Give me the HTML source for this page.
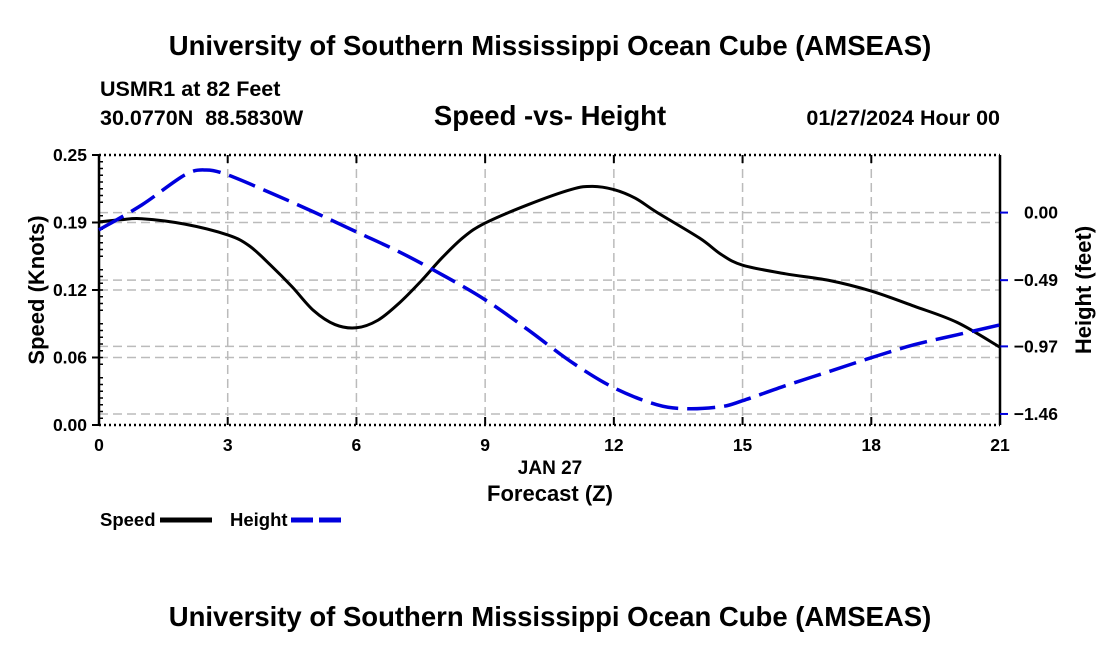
<!DOCTYPE html>
<html><head><meta charset="utf-8"><style>
body{margin:0;background:#fff;font-family:"Liberation Sans",sans-serif;}
svg text{font-family:"Liberation Sans",sans-serif;font-weight:bold;white-space:pre;}
</style></head><body>
<svg id="c" width="1100" height="650" viewBox="0 0 1100 650" xmlns="http://www.w3.org/2000/svg">
<text x="550" y="55" font-size="27.5" text-anchor="middle">University of Southern Mississippi Ocean Cube (AMSEAS)</text>
<text x="100" y="96" font-size="21.5">USMR1 at 82 Feet</text>
<text x="100" y="125" font-size="21.5">30.0770N  88.5830W</text>
<text x="550" y="125" font-size="27.5" text-anchor="middle">Speed -vs- Height</text>
<text x="1000" y="125" font-size="21.5" text-anchor="end">01/27/2024 Hour 00</text>
<g id="grid"></g><g id="axes"></g><g id="series"></g>
<text x="550" y="474" font-size="19" text-anchor="middle">JAN 27</text>
<text x="550" y="501" font-size="22" text-anchor="middle">Forecast (Z)</text>
<text transform="translate(44,290) rotate(-90)" font-size="22" text-anchor="middle">Speed (Knots)</text>
<text transform="translate(1091,290) rotate(-90)" font-size="22" text-anchor="middle">Height (feet)</text>
<g><text x="100" y="526" font-size="18.5">Speed</text><line x1="160" y1="520" x2="212" y2="520" stroke="#000" stroke-width="5"/></g>
<g><text x="230" y="526" font-size="18.5">Height</text><line x1="291" y1="520" x2="343" y2="520" stroke="#0000dd" stroke-width="5" stroke-dasharray="22,6"/></g>
<text x="550" y="626" font-size="27.5" text-anchor="middle">University of Southern Mississippi Ocean Cube (AMSEAS)</text>
</svg>
<script>
const hours=[0,0.5,1,2,3,3.5,4,4.5,5,5.5,6,6.5,7,7.5,8,8.5,9,10,11,11.5,12,12.5,13,14,14.5,15,16,17,18,19,20,21];
const speed=[0.188,0.190,0.191,0.186,0.176,0.166,0.148,0.128,0.106,0.093,0.090,0.097,0.113,0.133,0.155,0.174,0.187,0.204,0.218,0.221,0.218,0.210,0.197,0.173,0.158,0.148,0.140,0.134,0.124,0.110,0.095,0.072];
const heightHours=[0,1,2,2.5,3,4,5,6,7,8,9,10,11,12,13,13.7,14.5,15,16,17,18,19,20,21];
const height=[-0.125,0.056,0.273,0.309,0.273,0.143,0.005,-0.14,-0.285,-0.451,-0.632,-0.85,-1.081,-1.27,-1.393,-1.422,-1.407,-1.364,-1.255,-1.154,-1.052,-0.958,-0.886,-0.814];
const xTicks=[0,3,6,9,12,15,18,21];
const speedTicks=[0,0.0625,0.125,0.1875,0.25];
const speedTickLabels=["0.00","0.06","0.12","0.19","0.25"];
const heightTicks=[0,-0.49,-0.97,-1.46];
const heightTickLabels=["0.00","\u22120.49","\u22120.97","\u22121.46"];
const L=99,R=1000,T=155,B=425;
const X=h=>L+(h/21)*(R-L);
const YS=v=>B-(v/0.25)*(B-T);
const HMIN=-1.54,HMAX=0.4175;
const YH=v=>B-((v-HMIN)/(HMAX-HMIN))*(B-T);
const NS="http://www.w3.org/2000/svg";
function mk(p,tag,a){const e=document.createElementNS(NS,tag);for(const k in a)e.setAttribute(k,a[k]);p.appendChild(e);return e;}
const grid=document.getElementById('grid'),axes=document.getElementById('axes'),ser=document.getElementById('series');
const gs={stroke:"#bbb","stroke-width":1.5,"stroke-dasharray":"9,5"};
xTicks.forEach(h=>{if(h>0&&h<21){const e=mk(grid,'line',Object.assign({x1:X(h),x2:X(h),y1:T,y2:B},gs));

}});
speedTicks.forEach(v=>{if(v>0&&v<0.25){const e=mk(grid,'line',Object.assign({x1:L,x2:R,y1:YS(v),y2:YS(v)},gs));

}});
heightTicks.forEach(v=>{const e=mk(grid,'line',Object.assign({x1:L,x2:R,y1:YH(v),y2:YH(v)},gs));

});
mk(axes,'line',{x1:L,x2:L,y1:T,y2:B,stroke:"#000","stroke-width":2.5});
mk(axes,'line',{x1:R,x2:R,y1:T,y2:B,stroke:"#000","stroke-width":2.5});
mk(axes,'line',{x1:L,x2:R,y1:T,y2:T,stroke:"#000","stroke-width":2.5,"stroke-dasharray":"2,3"});
mk(axes,'line',{x1:L,x2:R,y1:B,y2:B,stroke:"#000","stroke-width":2.5,"stroke-dasharray":"2,3"});
for(let i=0;i<=40;i++){const y=B-i*(B-T)/40;mk(axes,'line',{x1:L,x2:L+(i%8==0?0:4),y1:y,y2:y,stroke:"#000","stroke-width":1.5});}
speedTicks.forEach((v,i)=>{mk(axes,'line',{x1:L-7,x2:L,y1:YS(v),y2:YS(v),stroke:"#000","stroke-width":2});
const t=mk(axes,'text',{x:L-12,y:YS(v)+6,"font-size":17.5,"text-anchor":"end"});t.textContent=speedTickLabels[i];

});
heightTicks.forEach((v,i)=>{mk(axes,'line',{x1:R,x2:R+8,y1:YH(v),y2:YH(v),stroke:"#0000dd","stroke-width":2});
const t=mk(axes,'text',{x:R+58,y:YH(v)+6,"font-size":17.5,"text-anchor":"end"});t.textContent=heightTickLabels[i];

});
xTicks.forEach(h=>{mk(axes,'line',{x1:X(h),x2:X(h),y1:B,y2:B-8,stroke:"#000","stroke-width":2});mk(axes,'line',{x1:X(h),x2:X(h),y1:T,y2:T+8,stroke:"#000","stroke-width":2});
const t=mk(axes,'text',{x:X(h),y:B+26,"font-size":17.5,"text-anchor":"middle"});t.textContent=h;

});
function smooth(pts){let d=`M${pts[0][0]},${pts[0][1]}`;for(let i=0;i<pts.length-1;i++){const p0=pts[Math.max(0,i-1)],p1=pts[i],p2=pts[i+1],p3=pts[Math.min(pts.length-1,i+2)];
d+=` C${p1[0]+(p2[0]-p0[0])/6},${p1[1]+(p2[1]-p0[1])/6} ${p2[0]-(p3[0]-p1[0])/6},${p2[1]-(p3[1]-p1[1])/6} ${p2[0]},${p2[1]}`;}return d;}
const sp=mk(ser,'path',{d:smooth(hours.map((h,i)=>[X(h),YS(speed[i])])),fill:"none",stroke:"#000","stroke-width":3});


const hp=mk(ser,'path',{d:smooth(heightHours.map((h,i)=>[X(h),YH(height[i])])),fill:"none",stroke:"#0000dd","stroke-width":3.5,"stroke-dasharray":"28,9"});


</script>
</body></html>
